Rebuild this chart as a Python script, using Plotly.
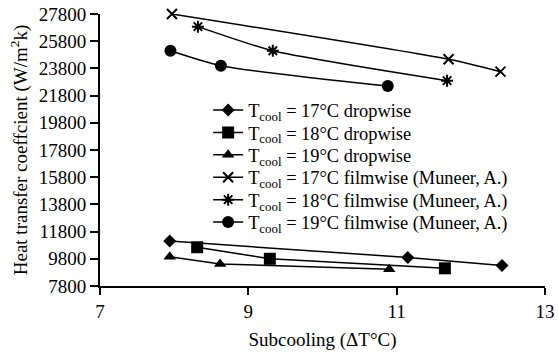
import plotly.graph_objects as go

x_d17 = [7.94, 11.15, 12.42]
y_d17 = [11100, 9900, 9300]
x_d18 = [8.31, 9.29, 11.65]
y_d18 = [10650, 9800, 9100]
x_d19 = [7.94, 8.62, 10.90]
y_d19 = [9950, 9420, 9030]
x_f17 = [7.97, 11.70, 12.40]
y_f17 = [27800, 24470, 23560]
x_f18 = [8.32, 9.33, 11.68]
y_f18 = [26870, 25100, 22900]
x_f19 = [7.95, 8.63, 10.88]
y_f19 = [25100, 24000, 22500]

x_ticks = [7, 9, 11, 13]
y_ticks = [7800, 9800, 11800, 13800, 15800, 17800, 19800, 21800, 23800, 25800, 27800]

names = [
    "T<sub>cool</sub> = 17°C dropwise",
    "T<sub>cool</sub> = 18°C dropwise",
    "T<sub>cool</sub> = 19°C dropwise",
    "T<sub>cool</sub> = 17°C filmwise (Muneer, A.)",
    "T<sub>cool</sub> = 18°C filmwise (Muneer, A.)",
    "T<sub>cool</sub> = 19°C filmwise (Muneer, A.)",
]
xs = [x_d17, x_d18, x_d19, x_f17, x_f18, x_f19]
ys = [y_d17, y_d18, y_d19, y_f17, y_f18, y_f19]
symbols = ["diamond", "square", "triangle-up", "x-thin-open", "asterisk-open", "circle"]
sizes = [10, 12, 11, 10, 10, 12]
shapes = ["linear", "linear", "linear", "spline", "spline", "spline"]

font = dict(family="Liberation Serif", size=19, color="black")
legend_font = dict(family="Liberation Serif", size=18.4, color="black")

fig = go.Figure()
legend_ids = ["legend", "legend2", "legend3", "legend4", "legend5", "legend6"]
for x, y, n, s, sz, sh, lg in zip(xs, ys, names, symbols, sizes, shapes, legend_ids):
    fig.add_trace(go.Scatter(
        x=x, y=y, name=n, mode="lines+markers", legend=lg, cliponaxis=False,
        line=dict(color="black", width=1.5, shape=sh, smoothing=0.6),
        marker=dict(symbol=s, size=sz, color="black",
                    line=dict(color="black", width=2 if "open" in s else 0)),
    ))

row0 = 0.647
step = 0.0824
legends = {}
for i, lg in enumerate(legend_ids):
    legends[lg] = dict(x=0.243, y=row0 - i * step, xanchor="left", yanchor="middle",
                       bgcolor="rgba(0,0,0,0)", font=legend_font, borderwidth=0)

fig.update_layout(
    width=558, height=354,
    margin=dict(l=100, r=13, t=14, b=68),
    paper_bgcolor="white", plot_bgcolor="white",
    font=font,
    showlegend=True,
    **legends,
    xaxis=dict(range=[7, 13], tickvals=x_ticks, ticktext=[str(v) for v in x_ticks],
               showgrid=False, automargin=False, ticklabeloverflow="allow",
               showline=True, linecolor="black", linewidth=2,
               ticks="outside", ticklen=7, tickwidth=2, tickcolor="black",
               title=dict(text="Subcooling (ΔT°C)", font=font, standoff=12),
               zeroline=False),
    yaxis=dict(range=[7800, 27800], tickvals=y_ticks, ticktext=[str(v) for v in y_ticks],
               showgrid=False, automargin=False, ticklabeloverflow="allow",
               showline=True, linecolor="black", linewidth=2,
               ticks="outside", ticklen=8, tickwidth=2, tickcolor="black",
               title=dict(text="Heat transfer coeffcient (W/m<sup>2</sup>k)", font=font, standoff=6),
               zeroline=False),
)
# remove the default 8px page margin so the figure fills the window exactly
fig.write_html("out.html", config={"displayModeBar": False},
               post_script="document.body.style.margin='0px';")
